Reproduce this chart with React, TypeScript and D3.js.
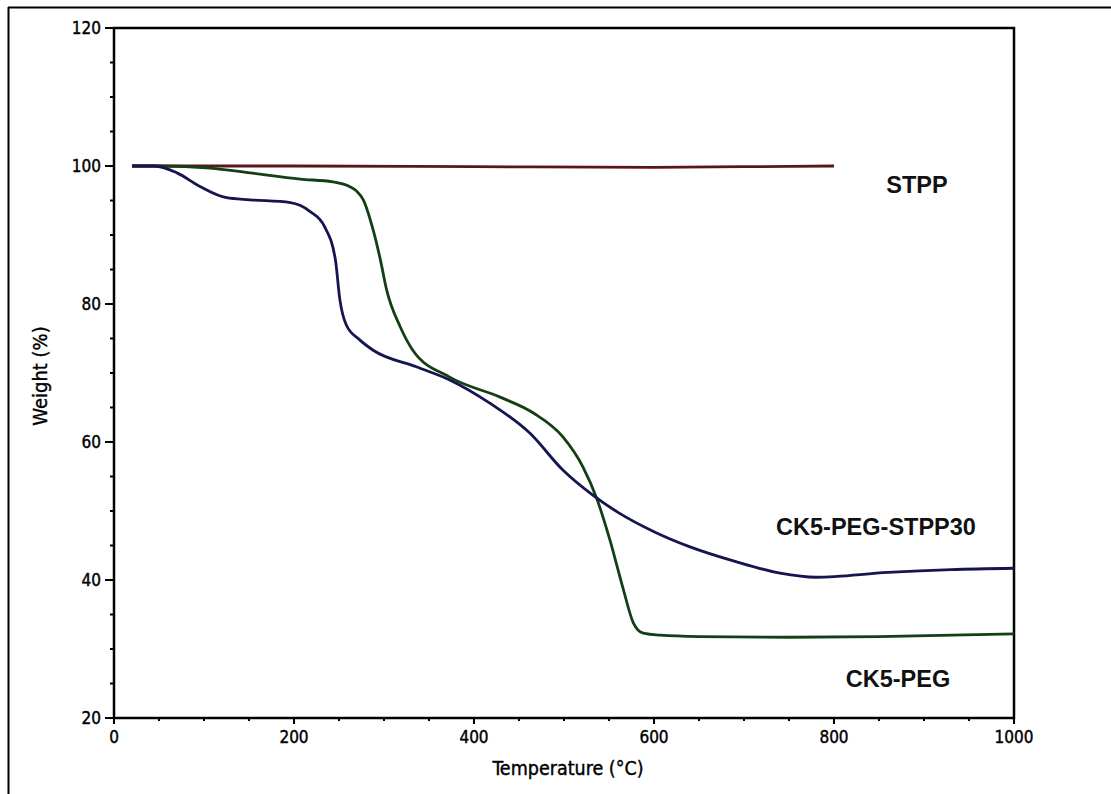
import React from "react";
import * as d3 from "d3";

const xTicks = [0, 200, 400, 600, 800, 1000];
const yTicks = [20, 40, 60, 80, 100, 120];

const stppT = [20, 200, 400, 600, 700, 800];
const stppW = [100, 100, 99.9, 99.8, 99.9, 100];

const pegT = [20, 51, 107, 151, 207, 243, 262, 270, 277, 288, 296, 303, 318, 332, 373, 429, 466, 499, 521, 537, 551, 566, 577, 588, 607, 650, 750, 850, 1000];
const pegW = [100, 100, 99.7, 99.0, 98.1, 97.7, 97.0, 96.3, 95.1, 90.7, 86.4, 82.0, 76.7, 73.3, 69.4, 66.5, 64.2, 60.7, 56.4, 51.6, 45.8, 38.6, 33.8, 32.3, 32.0, 31.8, 31.7, 31.8, 32.2];

const stpp30T = [20, 45, 70, 96, 125, 151, 196, 218, 234, 246, 251, 258, 273, 288, 336, 373, 418, 462, 499, 532, 560, 600, 640, 690, 740, 780, 860, 930, 1000];
const stpp30W = [100, 100, 99.0, 97.0, 95.4, 95.1, 94.7, 93.4, 91.2, 86.4, 80.6, 77.0, 74.8, 73.3, 70.9, 69.0, 65.6, 61.3, 55.9, 52.3, 49.8, 47.0, 44.8, 42.7, 41.0, 40.4, 41.1, 41.5, 41.7];

const seriesLabels = ["STPP", "CK5-PEG-STPP30", "CK5-PEG"];

export default function App() {
  const W = 1111, H = 794;
  const left = 114, right = 1014, top = 28, bottom = 718;
  const x = d3.scaleLinear().domain([0, 1000]).range([left, right]);
  const y = d3.scaleLinear().domain([20, 120]).range([bottom, top]);
  const mk = (T: number[], V: number[]) =>
    d3.line<number>().x((_, i) => x(T[i])).y((_, i) => y(V[i])).curve(d3.curveMonotoneX)(T) || "";

  const xMinor = d3.range(0, 1001, 50).filter((v) => v % 200 !== 0);
  const yMinor = d3.range(20, 121, 5).filter((v) => v % 20 !== 0);
  const tickFont = "'DejaVu Sans Condensed', 'DejaVu Sans', sans-serif";
  const labelFont = "'Liberation Sans', Arial, sans-serif";

  return (
    <svg width={W} height={H} style={{ position: "absolute", left: 0, top: 0, background: "#fff" }}>
      <rect x={0} y={0} width={W} height={H} fill="#fff" />
      {/* outer frame */}
      <line x1={8} y1={7.5} x2={W} y2={7.5} stroke="#000" strokeWidth={2} />
      <line x1={8.5} y1={7} x2={8.5} y2={H} stroke="#000" strokeWidth={2} />

      {/* plot box */}
      <rect x={left} y={top} width={right - left} height={bottom - top} fill="none" stroke="#000" strokeWidth={2.5} />

      {/* y ticks */}
      {yTicks.map((v) => (
        <g key={"y" + v}>
          <line x1={left - 9} x2={left} y1={y(v)} y2={y(v)} stroke="#000" strokeWidth={2} />
          <text x={left - 13} y={y(v) + 6} textAnchor="end" fontFamily={tickFont} fontSize={17} stroke="#000" strokeWidth={0.4} fill="#000">{v}</text>
        </g>
      ))}
      {yMinor.map((v) => (
        <line key={"ym" + v} x1={left - 4} x2={left} y1={y(v)} y2={y(v)} stroke="#000" strokeWidth={2} />
      ))}

      {/* x ticks */}
      {xTicks.map((v) => (
        <g key={"x" + v}>
          <line x1={x(v)} x2={x(v)} y1={bottom} y2={bottom + 6} stroke="#000" strokeWidth={2} />
          <text x={x(v)} y={bottom + 25} textAnchor="middle" fontFamily={tickFont} fontSize={17} stroke="#000" strokeWidth={0.4} fill="#000">{v}</text>
        </g>
      ))}
      {xMinor.map((v) => (
        <line key={"xm" + v} x1={x(v)} x2={x(v)} y1={bottom} y2={bottom + 3} stroke="#000" strokeWidth={2} />
      ))}

      {/* curves */}
      <path d={mk(stppT, stppW)} fill="none" stroke="#5a1616" strokeWidth={2.8} />
      <path d={mk(pegT, pegW)} fill="none" stroke="#143f14" strokeWidth={2.8} />
      <path d={mk(stpp30T, stpp30W)} fill="none" stroke="#15154f" strokeWidth={2.8} />

      {/* series labels */}
      <text x={917} y={193} textAnchor="middle" fontFamily={labelFont} fontWeight="bold" fontSize={23.5} fill="#111">{seriesLabels[0]}</text>
      <text x={876} y={535} textAnchor="middle" fontFamily={labelFont} fontWeight="bold" fontSize={23.5} fill="#111">{seriesLabels[1]}</text>
      <text x={898} y={687} textAnchor="middle" fontFamily={labelFont} fontWeight="bold" fontSize={23.5} fill="#111">{seriesLabels[2]}</text>

      {/* axis titles */}
      <text x={568} y={775} textAnchor="middle" fontFamily={tickFont} fontSize={19.5} stroke="#000" strokeWidth={0.4} fill="#000">Temperature (°C)</text>
      <text transform={`translate(47, 376) rotate(-90)`} textAnchor="middle" fontFamily={tickFont} fontSize={20} stroke="#000" strokeWidth={0.4} fill="#000">Weight (%)</text>
    </svg>
  );
}
